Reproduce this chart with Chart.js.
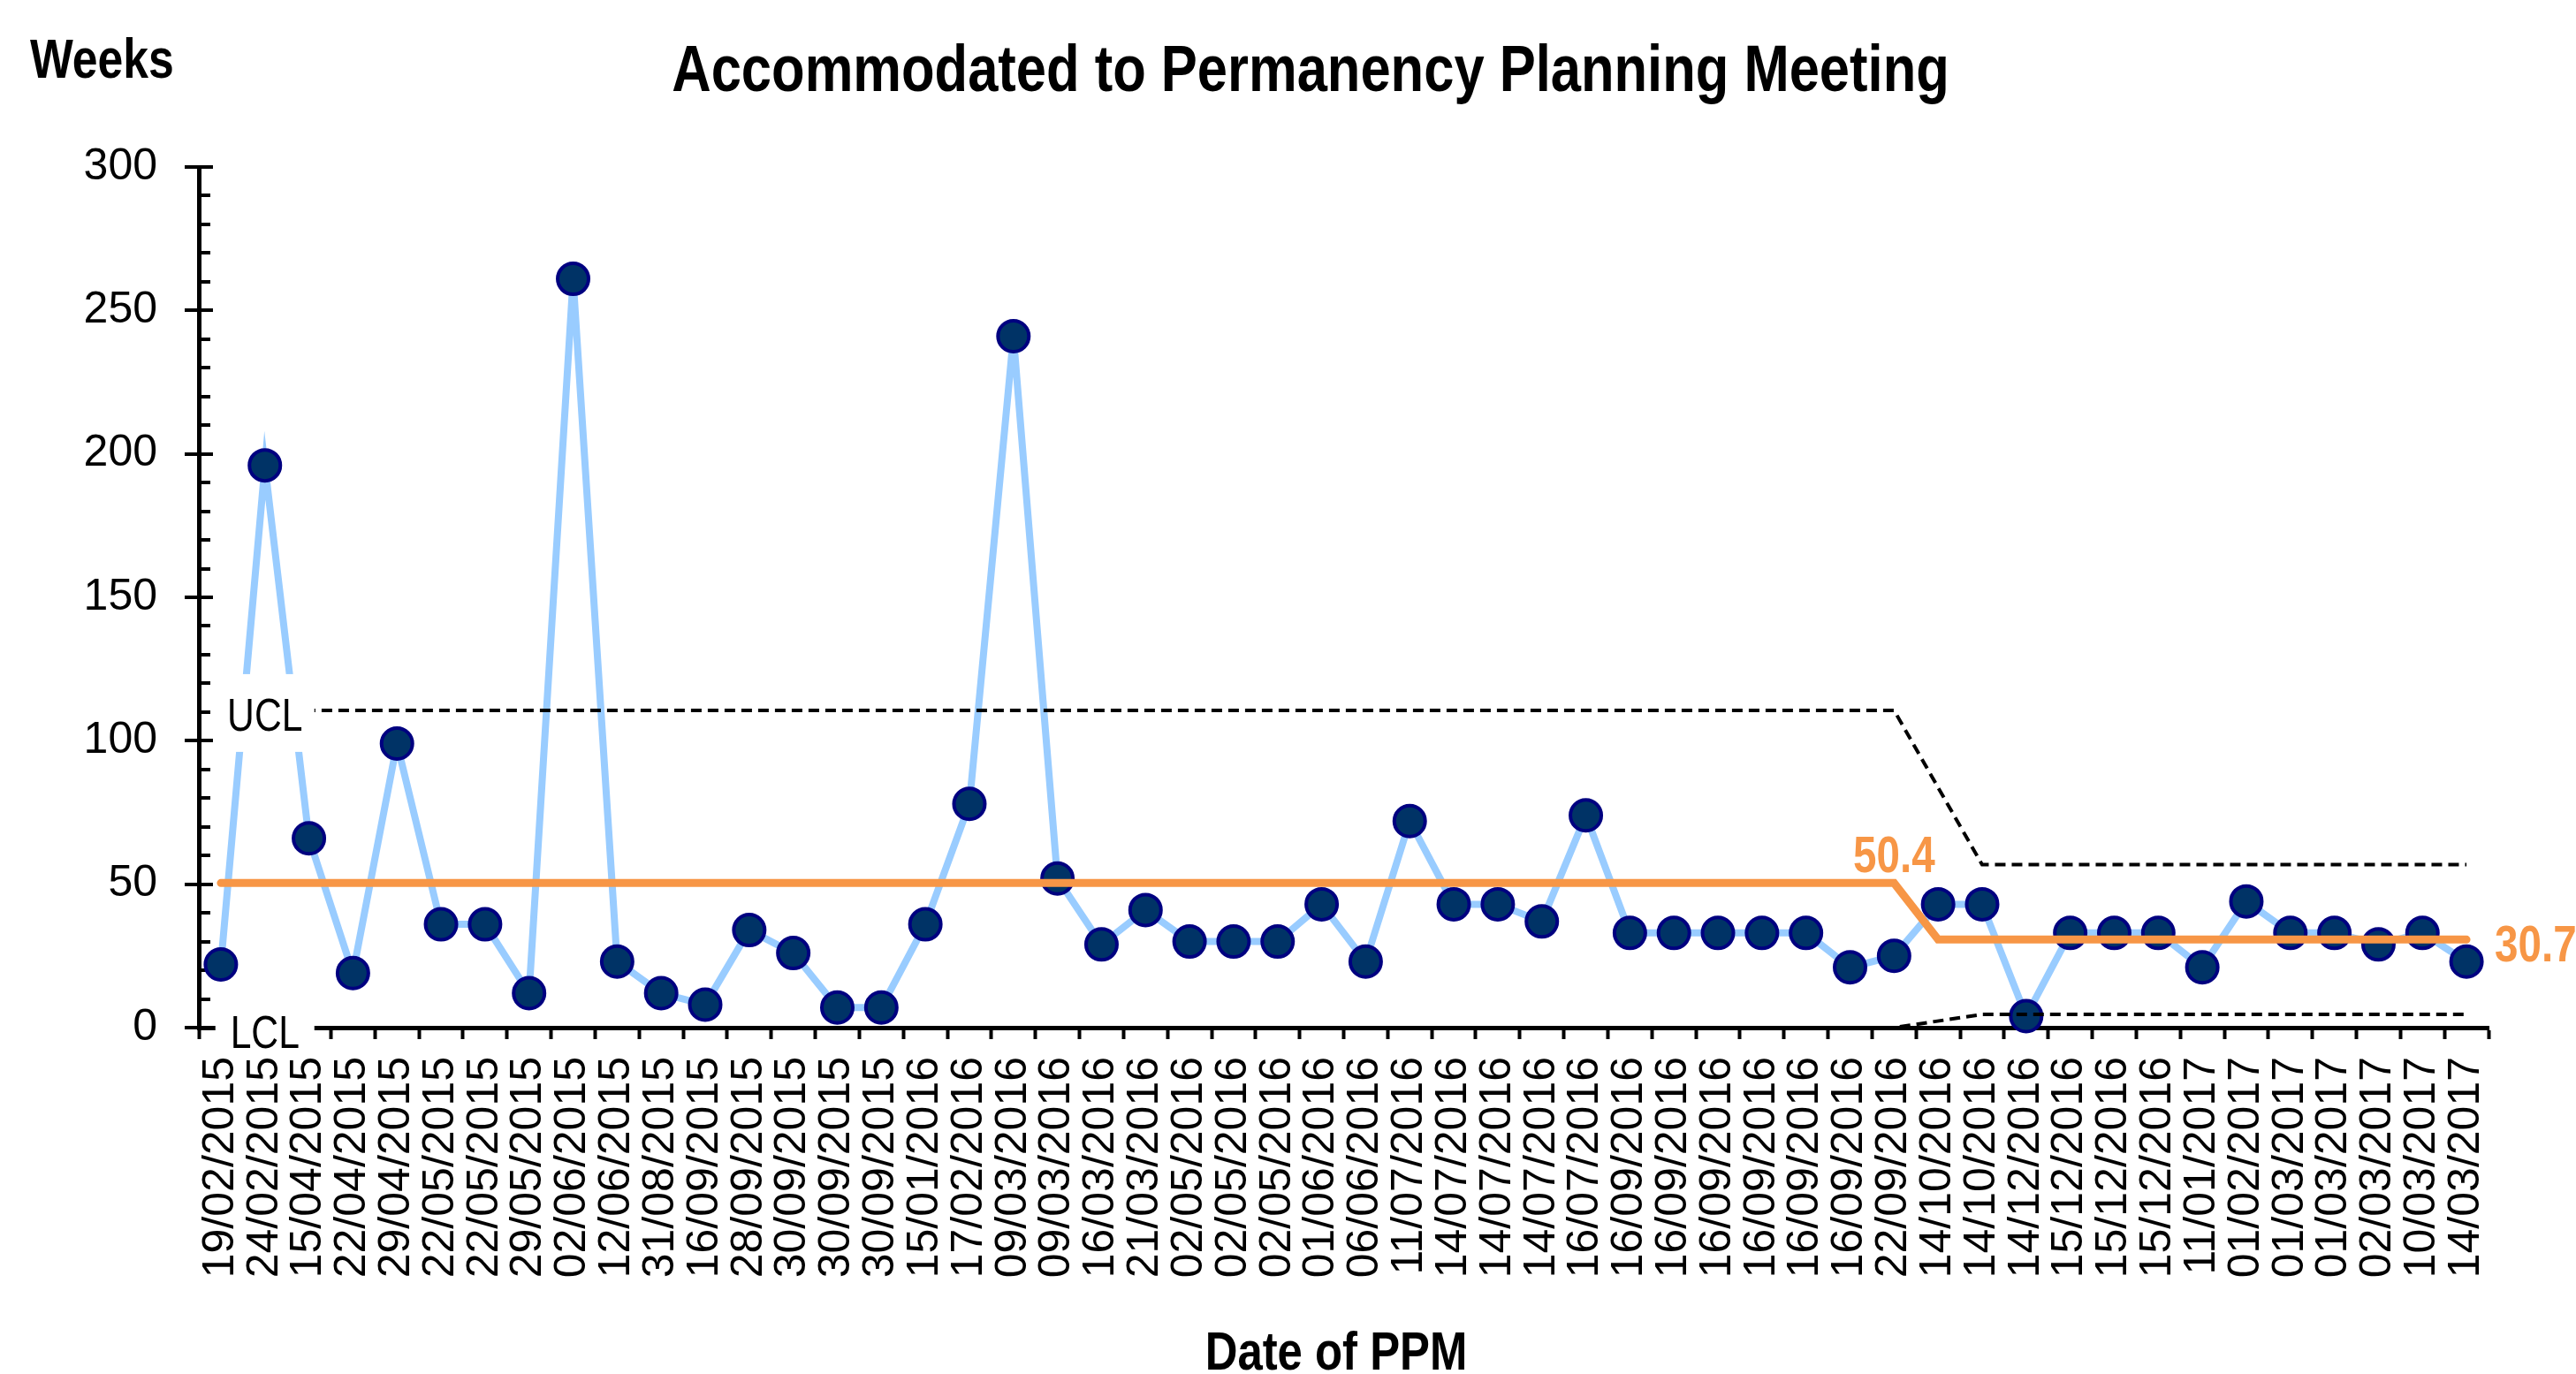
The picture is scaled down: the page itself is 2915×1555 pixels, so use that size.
<!DOCTYPE html>
<html>
<head>
<meta charset="utf-8">
<title>Accommodated to Permanency Planning Meeting</title>
<script src="https://cdn.jsdelivr.net/npm/chart.js@4.4.1/dist/chart.umd.min.js"></script>
<style>
  html, body { margin: 0; padding: 0; background: #fff; }
  canvas { display: block; }
</style>
</head>
<body>
<canvas id="ppm-chart" width="2915" height="1555"></canvas>
<script>
// Date of each PPM (x axis categories)
const ppmDates = [
  '19/02/2015', '24/02/2015', '15/04/2015', '22/04/2015', '29/04/2015', '22/05/2015',
  '22/05/2015', '29/05/2015', '02/06/2015', '12/06/2015', '31/08/2015', '16/09/2015',
  '28/09/2015', '30/09/2015', '30/09/2015', '30/09/2015', '15/01/2016', '17/02/2016',
  '09/03/2016', '09/03/2016', '16/03/2016', '21/03/2016', '02/05/2016', '02/05/2016',
  '02/05/2016', '01/06/2016', '06/06/2016', '11/07/2016', '14/07/2016', '14/07/2016',
  '14/07/2016', '16/07/2016', '16/09/2016', '16/09/2016', '16/09/2016', '16/09/2016',
  '16/09/2016', '16/09/2016', '22/09/2016', '14/10/2016', '14/10/2016', '14/12/2016',
  '15/12/2016', '15/12/2016', '15/12/2016', '11/01/2017', '01/02/2017', '01/03/2017',
  '01/03/2017', '02/03/2017', '10/03/2017', '14/03/2017'
];

// Weeks from accommodation to the PPM
const weeks = [
  22, 196, 66, 19, 99, 36, 36, 12, 261, 23, 12, 8, 34,
  26, 7, 7, 36, 78, 241, 52, 29, 41, 30, 30, 30, 43,
  23, 72, 43, 43, 37, 74, 33, 33, 33, 33, 33, 21, 25,
  43, 43, 4, 33, 33, 33, 21, 44, 33, 33, 29, 33, 23
];

// Mean line (two phases)
const centreLine = [
  50.4, 50.4, 50.4, 50.4, 50.4, 50.4, 50.4, 50.4, 50.4, 50.4, 50.4, 50.4, 50.4,
  50.4, 50.4, 50.4, 50.4, 50.4, 50.4, 50.4, 50.4, 50.4, 50.4, 50.4, 50.4, 50.4,
  50.4, 50.4, 50.4, 50.4, 50.4, 50.4, 50.4, 50.4, 50.4, 50.4, 50.4, 50.4, 50.4,
  30.7, 30.7, 30.7, 30.7, 30.7, 30.7, 30.7, 30.7, 30.7, 30.7, 30.7, 30.7, 30.7
];

// Upper control limit (no value for the first point of phase two)
const upperLimit = [
  110.6, 110.6, 110.6, 110.6, 110.6, 110.6, 110.6, 110.6, 110.6, 110.6, 110.6, 110.6, 110.6,
  110.6, 110.6, 110.6, 110.6, 110.6, 110.6, 110.6, 110.6, 110.6, 110.6, 110.6, 110.6, 110.6,
  110.6, 110.6, 110.6, 110.6, 110.6, 110.6, 110.6, 110.6, 110.6, 110.6, 110.6, 110.6, 110.6,
  null, 56.8, 56.8, 56.8, 56.8, 56.8, 56.8, 56.8, 56.8, 56.8, 56.8, 56.8, 56.8
];

// Lower control limit
const lowerLimit = [
  0, 0, 0, 0, 0, 0, 0, 0, 0, 0, 0, 0, 0,
  0, 0, 0, 0, 0, 0, 0, 0, 0, 0, 0, 0, 0,
  0, 0, 0, 0, 0, 0, 0, 0, 0, 0, 0, 0, 0,
  null, 4.6, 4.6, 4.6, 4.6, 4.6, 4.6, 4.6, 4.6, 4.6, 4.6, 4.6, 4.6
];

const yMax = 300;
const yMajorStep = 50;
const yMinorStep = 10;

const sans = "'Liberation Sans', Arial, sans-serif";
const orange = '#F79646';

// text squeezed sideways, to get close to the condensed look of the original
function squeezedText(ctx, text, x, y, font, align, color) {
    ctx.save();
    ctx.font = font;
    ctx.fillStyle = color;
    ctx.textAlign = align;
    ctx.textBaseline = 'alphabetic';
    ctx.translate(x, y);
    ctx.scale(0.82, 1);
    ctx.fillText(text, 0, 0);
    ctx.restore();
}

// extra drawing: y axis tick marks, UCL/LCL tags, mean labels, titles
const annotate = {
    id: 'annotate',
    beforeDatasetsDraw(chart) {
        const ctx = chart.ctx;
        const x = chart.scales.x;
        const y = chart.scales.y;
        ctx.save();
        ctx.strokeStyle = '#000';
        ctx.lineWidth = 4;
        for (let v = 0; v <= yMax; v += yMinorStep) {
            const py = Math.round(y.getPixelForValue(v));
            const major = v % yMajorStep === 0;
            ctx.beginPath();
            ctx.moveTo(x.left - (major ? 16 : 0), py);
            ctx.lineTo(x.left + (major ? 16 : 13), py);
            ctx.stroke();
        }
        ctx.restore();
    },
    afterDatasetsDraw(chart) {
        const ctx = chart.ctx;
        const x = chart.scales.x;
        const y = chart.scales.y;

        // UCL / LCL tags sit on white boxes over the second point
        const bx = x.getPixelForValue(1);
        [['UCL', upperLimit[1], 88], ['LCL', lowerLimit[1], 60]].forEach(function(tag) {
            const py = y.getPixelForValue(tag[1]);
            ctx.fillStyle = '#fff';
            ctx.fillRect(bx - 56, py - tag[2] / 2 + 3, 112, tag[2]);
            squeezedText(ctx, tag[0], bx, py + 23, '52px ' + sans, 'center', '#000');
        });

        // mean values
        squeezedText(ctx, centreLine[38].toFixed(1), x.getPixelForValue(38),
            y.getPixelForValue(centreLine[38]) - 12, 'bold 58px ' + sans, 'center', orange);
        squeezedText(ctx, centreLine[51].toFixed(1), x.getPixelForValue(51) + 32,
            y.getPixelForValue(centreLine[51]) + 25, 'bold 58px ' + sans, 'left', orange);
    },
    afterDraw(chart) {
        const ctx = chart.ctx;
        squeezedText(ctx, 'Accommodated to Permanency Planning Meeting', 1483, 103, 'bold 75px ' + sans, 'center', '#000');
        squeezedText(ctx, 'Date of PPM', 1512, 1550, 'bold 62px ' + sans, 'center', '#000');
        squeezedText(ctx, 'Weeks', 34, 88, 'bold 63px ' + sans, 'left', '#000');
    }
};

const ctx = document.getElementById('ppm-chart').getContext('2d');
new Chart(ctx, {
    type: 'line',
    data: {
        labels: ppmDates,
        datasets: [
            {
                label: 'UCL',
                data: upperLimit,
                borderColor: '#000',
                borderWidth: 4,
                borderDash: [12, 7],
                pointRadius: 0,
                spanGaps: true,
                order: 0
            },
            {
                label: 'LCL',
                data: lowerLimit,
                borderColor: '#000',
                borderWidth: 4,
                borderDash: [12, 7],
                pointRadius: 0,
                spanGaps: true,
                order: 0
            },
            {
                label: 'Mean',
                data: centreLine,
                borderColor: orange,
                borderWidth: 9,
                borderCapStyle: 'round',
                pointRadius: 0,
                order: 1
            },
            {
                label: 'Weeks',
                data: weeks,
                borderColor: '#99CCFF',
                borderWidth: 8,
                pointRadius: 17.5,
                pointBorderWidth: 4,
                pointBackgroundColor: '#003366',
                pointBorderColor: '#000080',
                tension: 0,
                clip: false,
                order: 3
            }
        ]
    },
    options: {
        responsive: false,
        animation: false,
        devicePixelRatio: 1,
        layout: { padding: { top: 189, right: 99, bottom: 0, left: 0 } },
        plugins: {
            legend: { display: false },
            tooltip: { enabled: false },
            title: { display: false }
        },
        scales: {
            x: {
                type: 'category',
                offset: true,
                grid: {
                    display: true,
                    offset: true,
                    drawOnChartArea: false,
                    drawTicks: true,
                    tickLength: 13,
                    tickWidth: 4,
                    tickColor: '#000'
                },
                border: { display: true, color: '#000', width: 5 },
                ticks: {
                    autoSkip: false,
                    minRotation: 90,
                    maxRotation: 90,
                    padding: 20,
                    color: '#000',
                    font: { family: sans, size: 50 }
                },
                afterFit(scale) { scale.height = 392; }
            },
            y: {
                min: 0,
                max: yMax,
                ticks: {
                    stepSize: yMajorStep,
                    padding: 47,
                    color: '#000',
                    font: { family: sans, size: 50 }
                },
                grid: { display: true, drawOnChartArea: false, drawTicks: false },
                border: { display: true, color: '#000', width: 5 },
                afterFit(scale) { scale.width = 225; }
            }
        }
    },
    plugins: [annotate]
});
</script>
</body>
</html>
